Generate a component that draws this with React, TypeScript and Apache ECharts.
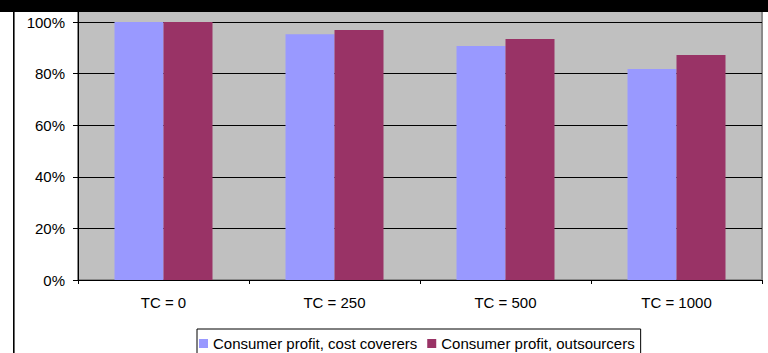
import React, { useEffect, useRef } from "react";
import * as echarts from "echarts";

const categories = ["TC = 0", "TC = 250", "TC = 500", "TC = 1000"];
const costCoverers = [100, 95.3, 90.7, 81.8];
const outsourcers = [100, 96.9, 93.4, 87.2];
const seriesNames = ["Consumer profit, cost coverers", "Consumer profit, outsourcers"];

const FONT = "'Liberation Sans', Arial, sans-serif";

export default function App() {
  const ref = useRef<HTMLDivElement>(null);

  useEffect(() => {
    if (!ref.current) return;
    const chart = echarts.init(ref.current, undefined, { renderer: "svg" });
    // the plot starts at the very top; its value range runs a little past 100%
    const zeroY = 280;
    const pxPerPct = 258 / 100;
    const axisMax = zeroY / pxPerPct;
    chart.setOption({
      animation: false,
      backgroundColor: "#ffffff",
      textStyle: { fontFamily: FONT },
      grid: {
        left: 78,
        right: 6,
        top: 0,
        bottom: 353 - zeroY,
        show: true,
        backgroundColor: "#c0c0c0",
        borderColor: "#8a8a8a",
        borderWidth: 2,
      },
      legend: {
        data: seriesNames,
        left: 197,
        top: 329,
        orient: "horizontal",
        icon: "rect",
        itemWidth: 9,
        itemHeight: 9,
        itemGap: 10,
        padding: [7, 6, 10, 2],
        backgroundColor: "#ffffff",
        borderColor: "#000000",
        borderWidth: 1,
        borderRadius: 0,
        textStyle: { fontSize: 15, color: "#000", fontFamily: FONT },
      },
      xAxis: {
        type: "category",
        data: categories,
        axisLine: { lineStyle: { color: "#000", width: 1 } },
        axisTick: { show: true, length: 4, lineStyle: { color: "#000" } },
        axisLabel: { fontSize: 15, color: "#000", margin: 15, fontFamily: FONT },
      },
      yAxis: {
        type: "value",
        min: 0,
        max: axisMax,
        interval: 20,
        axisLine: { show: true, lineStyle: { color: "#000", width: 1 } },
        axisTick: { show: true, length: 5, lineStyle: { color: "#000" } },
        axisLabel: {
          fontSize: 15,
          color: "#000",
          margin: 13,
          fontFamily: FONT,
          showMaxLabel: false,
          formatter: (v: number) => `${Math.round(v)}%`,
        },
        splitLine: { show: true, lineStyle: { color: "#000", width: 1 } },
      },
      series: [
        {
          name: seriesNames[0],
          type: "bar",
          data: costCoverers,
          barWidth: 49,
          barGap: "0%",
          itemStyle: { color: "#9999ff" },
        },
        {
          name: seriesNames[1],
          type: "bar",
          data: outsourcers,
          barWidth: 49,
          barGap: "0%",
          itemStyle: { color: "#993366" },
        },
      ],
      graphic: [
        {
          type: "rect",
          z: 100,
          shape: { x: 0, y: 0, width: 768, height: 12 },
          style: { fill: "#000" },
        },
        {
          type: "rect",
          z: 100,
          shape: { x: 13, y: 12, width: 1.6, height: 341 },
          style: { fill: "#000" },
        },
      ],
    });
    return () => chart.dispose();
  }, []);

  return (
    <div
      ref={ref}
      style={{ position: "fixed", left: 0, top: 0, width: 768, height: 353 }}
    />
  );
}
